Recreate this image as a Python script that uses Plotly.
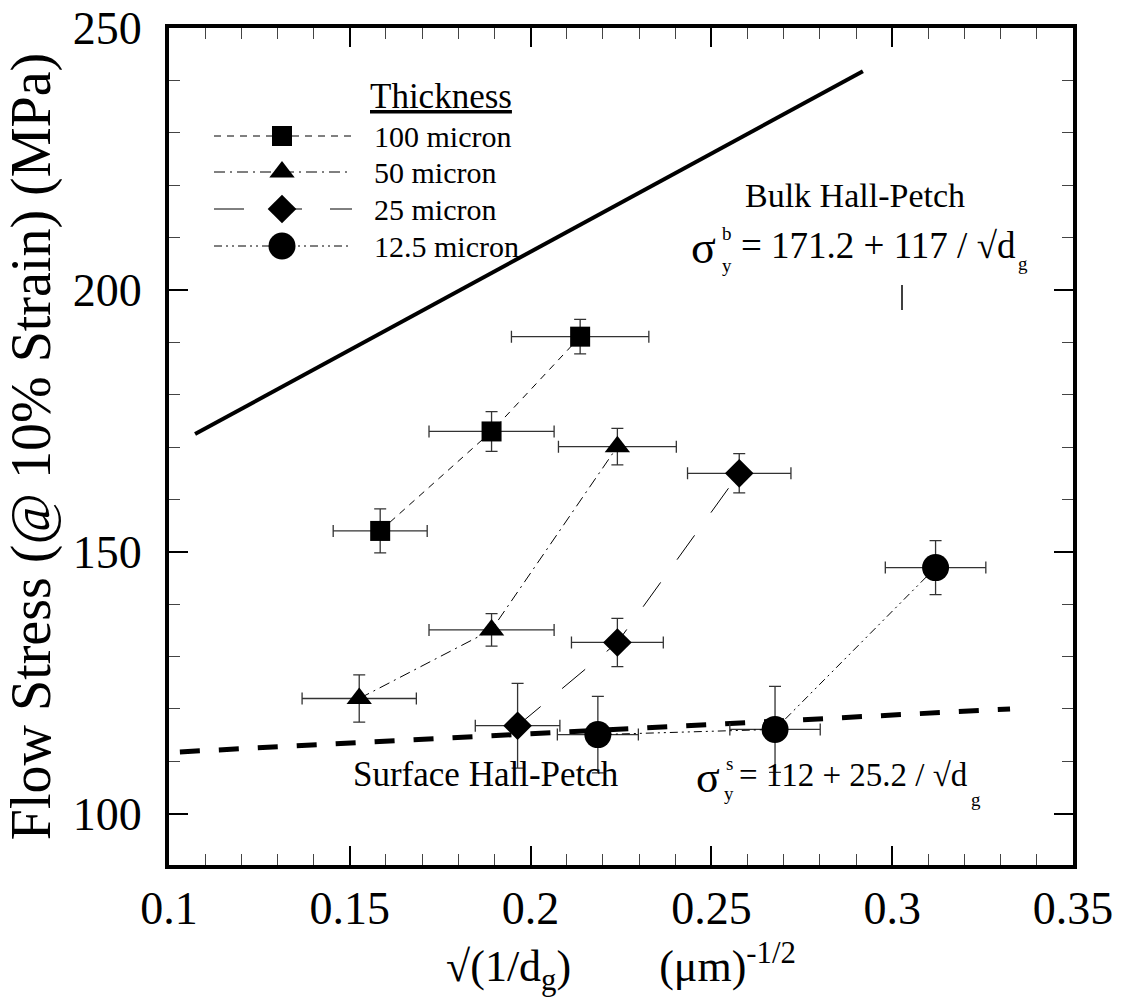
import plotly.graph_objects as go

# ---------------- data ----------------
x100 = [0.1584, 0.1892, 0.2137]
y100 = [154.0, 173.0, 191.1]
xe100 = [0.013, 0.0173, 0.019]
ye100 = [4.2, 3.8, 3.3]

x50 = [0.1526, 0.1892, 0.2240]
y50 = [122.0, 135.1, 170.1]
xe50 = [0.0158, 0.0173, 0.0163]
ye50 = [4.5, 3.1, 3.5]

x25 = [0.1964, 0.2240, 0.2577]
y25 = [116.8, 132.7, 165.0]
xe25 = [0.0117, 0.0127, 0.0143]
ye25 = [8.1, 4.6, 3.75]

x12 = [0.2186, 0.2676, 0.3120]
y12 = [115.1, 116.1, 147.0]
xe12 = [0.0112, 0.0125, 0.0139]
ye12 = [7.3, 8.2, 5.15]

bulk_x = [0.1072, 0.2919]
bulk_y = [172.5, 241.8]
surf_x = [0.103, 0.3326]
surf_y = [111.8, 120.0]

series_names = ["100 micron", "50 micron", "25 micron", "12.5 micron"]
x_ticks = [0.1, 0.15, 0.2, 0.25, 0.3, 0.35]
x_ticklabels = ["0.1", "0.15", "0.2", "0.25", "0.3", "0.35"]
y_ticks = [100, 150, 200, 250]

FONT = "Liberation Serif"
W, H = 1124, 1008
L, R, T, B = 169, 51, 28, 143

styles = [
    dict(symbol="square", size=20, dash="7px,6px"),
    dict(symbol="triangle-up", size=22, dash="11px,5px,2px,5px"),
    dict(symbol="diamond", size=22, dash="30px,28px"),
    dict(symbol="circle", size=27, dash="8px,4px,2px,4px,2px,4px"),
]
data = [(x100, y100, xe100, ye100), (x50, y50, xe50, ye50),
        (x25, y25, xe25, ye25), (x12, y12, xe12, ye12)]

fig = go.Figure()

# Bulk and surface Hall-Petch lines
fig.add_trace(go.Scatter(x=bulk_x, y=bulk_y, mode="lines",
                         line=dict(color="black", width=4), showlegend=False))
fig.add_trace(go.Scatter(x=surf_x, y=surf_y, mode="lines",
                         line=dict(color="black", width=5, dash="20px,19px"),
                         showlegend=False))

for (xs, ys, xe, ye), st, nm in zip(data, styles, series_names):
    fig.add_trace(go.Scatter(
        x=xs, y=ys, mode="lines+markers", name=nm, showlegend=False,
        line=dict(color="black", width=1, dash=st["dash"]),
        marker=dict(symbol=st["symbol"], size=st["size"], color="black"),
        error_x=dict(type="data", array=xe, visible=True, thickness=1.3,
                     width=6, color="#333"),
        error_y=dict(type="data", array=ye, visible=True, thickness=1.3,
                     width=6, color="#333"),
    ))

# ---------- manual legend on a pixel-scaled overlay axis ----------
leg_y = [136, 172, 209, 246]
for st, ly, nm in zip(styles, leg_y, series_names):
    fig.add_trace(go.Scatter(
        x=[214, 282, 352], y=[ly, ly, ly], xaxis="x2", yaxis="y2",
        mode="lines", line=dict(color="black", width=1, dash=st["dash"]),
        showlegend=False, hoverinfo="skip"))
    fig.add_trace(go.Scatter(
        x=[282], y=[ly], xaxis="x2", yaxis="y2", mode="markers",
        marker=dict(symbol=st["symbol"], size=st["size"], color="black"),
        showlegend=False, hoverinfo="skip"))

ann = []
def txt(x, y, s, size, xanchor="left"):
    ann.append(dict(x=x, y=y, xref="x2", yref="y2", text=s, showarrow=False,
                    xanchor=xanchor, yanchor="middle",
                    font=dict(family=FONT, size=size, color="black")))

txt(441, 96, "<u>Thickness</u>", 35, "center")
for ly, nm in zip(leg_y, series_names):
    txt(372, ly, nm, 30)

# Bulk annotation
txt(855, 195, "Bulk Hall-Petch", 34, "center")
txt(703, 247, "σ", 46, "center")
txt(727, 233, "b", 19, "center")
txt(727, 265, "y", 19, "center")
txt(739, 245, "= 171.2 + 117 / √d", 37)
txt(1023, 263, "g", 19, "center")

# Surface annotation
txt(486, 774, "Surface Hall-Petch", 35, "center")
txt(708, 777, "σ", 44, "center")
txt(729, 763, "s", 19, "center")
txt(729, 793, "y", 19, "center")
txt(737, 775, "= 112 + 25.2 / √d", 33)
txt(976, 799, "g", 19, "center")

fig.update_layout(annotations=ann)

# stray tick under the bulk formula
fig.add_shape(type="line", xref="x2", yref="y2", x0=902, x1=902, y0=285, y1=310,
              line=dict(color="black", width=1.5))

axis_common = dict(
    showline=True, linewidth=4, linecolor="black", mirror="allticks",
    ticks="inside", ticklen=19, tickwidth=1.5, tickcolor="black",
    showgrid=False, zeroline=False, automargin=False,
    tickfont=dict(family=FONT, size=46, color="black"),
)

fig.update_layout(
    width=W, height=H,
    margin=dict(l=L, r=R, t=T, b=B, autoexpand=False),
    plot_bgcolor="white", paper_bgcolor="white",
    showlegend=False,
    xaxis=dict(range=[0.09999, 0.35001], tickvals=x_ticks, ticktext=x_ticklabels,
               minor=dict(dtick=0.01, tick0=0.1, ticks="inside", ticklen=11,
                          tickwidth=1.2, tickcolor="#444"),
               title=dict(text="√(1/d<sub>g</sub>)" + "\u00a0" * 8 + "(μm)<sup>-1/2</sup>",
                          font=dict(family=FONT, size=44, color="black"), standoff=18),
               **axis_common),
    yaxis=dict(range=[90.2, 250.05], tickvals=y_ticks, ticklabelstandoff=14,
               minor=dict(dtick=10, tick0=0, ticks="inside", ticklen=11,
                          tickwidth=1.2, tickcolor="#444"),
               title=dict(text="Flow Stress (@ 10% Strain) (MPa)",
                          font=dict(family=FONT, size=56, color="black"), standoff=6),
               **axis_common),
    xaxis2=dict(overlaying="x", range=[L, W - R], visible=False, fixedrange=True,
                automargin=False),
    yaxis2=dict(overlaying="y", range=[H - B, T], visible=False, fixedrange=True,
                automargin=False),
)

fig.write_html("out.html")
